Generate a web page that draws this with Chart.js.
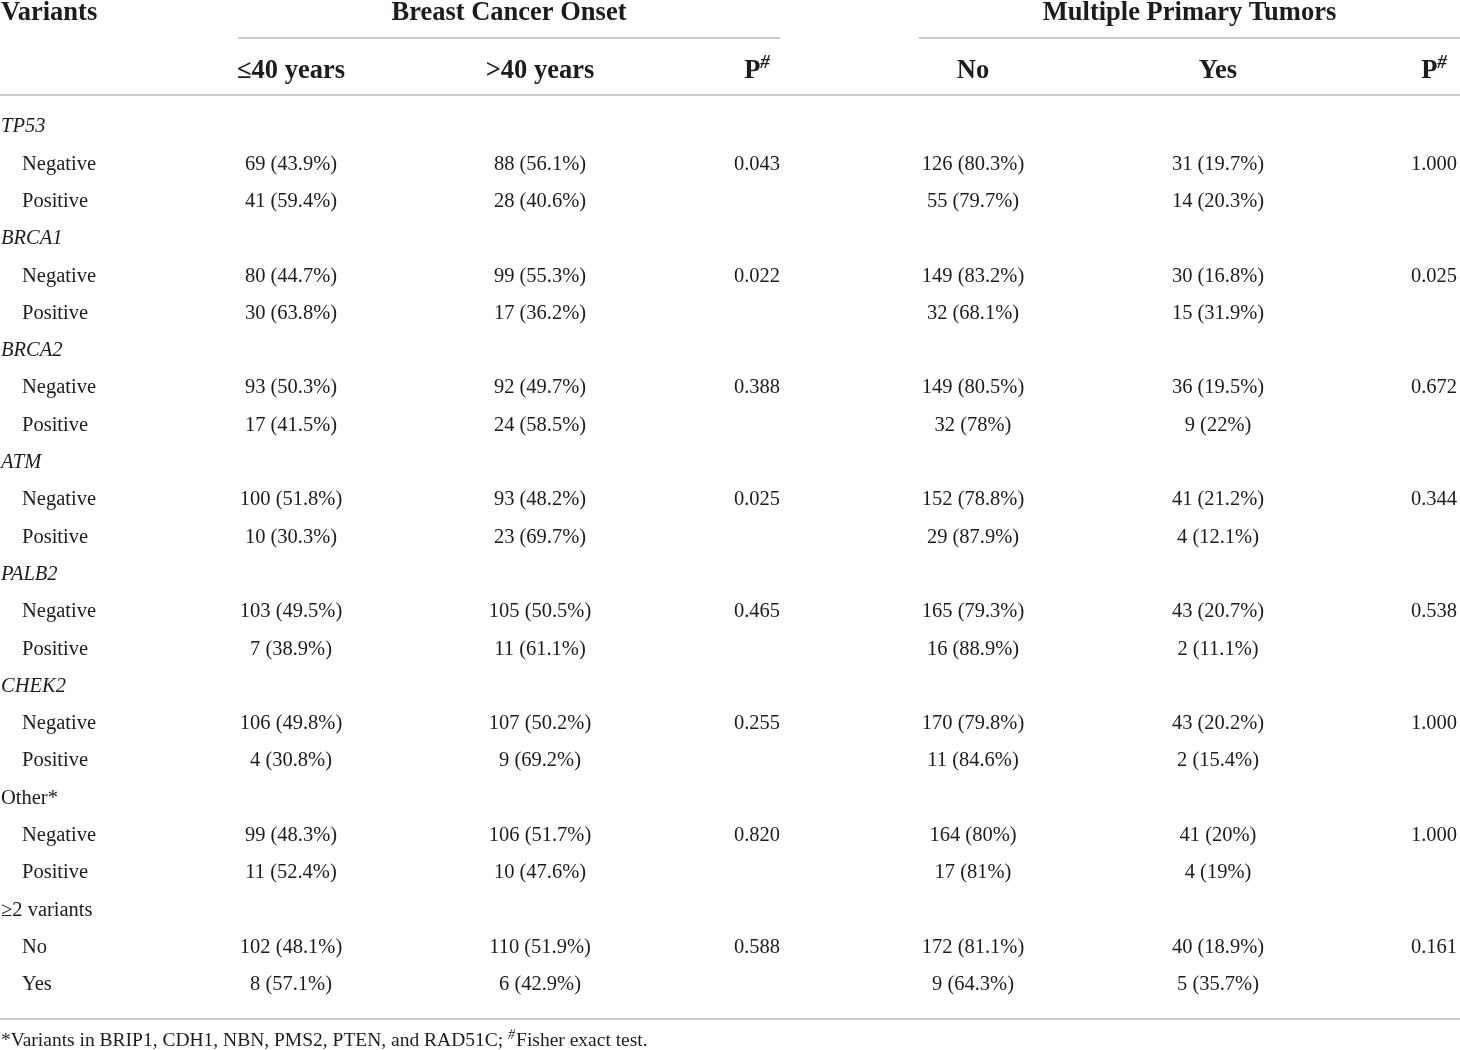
<!DOCTYPE html>
<html>
<head>
<meta charset="utf-8">
<script src="https://cdn.jsdelivr.net/npm/chart.js@4.4.1/dist/chart.umd.min.js"></script>
<style>
    html, body { margin: 0; padding: 0; background: #fff; }
    #wrap { width: 1460px; height: 1050px; position: relative; }
</style>
</head>
<body>
<div id="wrap"><canvas id="tableChart"></canvas></div>
<script>
// Table content
const variants = ['TP53', 'BRCA1', 'BRCA2', 'ATM', 'PALB2', 'CHEK2', 'Other*', '≥2 variants'];
const italicVariants = ['TP53', 'BRCA1', 'BRCA2', 'ATM', 'PALB2', 'CHEK2'];
const statusLabels = ['Negative', 'Positive', 'Negative', 'Positive', 'Negative', 'Positive', 'Negative', 'Positive',
    'Negative', 'Positive', 'Negative', 'Positive', 'Negative', 'Positive', 'No', 'Yes'];

const groupHeaders = ['Breast Cancer Onset', 'Multiple Primary Tumors'];
const columnHeaders = ['≤40 years', '>40 years', 'P', 'No', 'Yes', 'P'];

// Breast cancer onset
const le40N = [69, 41, 80, 30, 93, 17, 100, 10, 103, 7, 106, 4, 99, 11, 102, 8];
const le40Pct = [43.9, 59.4, 44.7, 63.8, 50.3, 41.5, 51.8, 30.3, 49.5, 38.9, 49.8, 30.8, 48.3, 52.4, 48.1, 57.1];
const gt40N = [88, 28, 99, 17, 92, 24, 93, 23, 105, 11, 107, 9, 106, 10, 110, 6];
const gt40Pct = [56.1, 40.6, 55.3, 36.2, 49.7, 58.5, 48.2, 69.7, 50.5, 61.1, 50.2, 69.2, 51.7, 47.6, 51.9, 42.9];
const onsetP = [0.043, 0.022, 0.388, 0.025, 0.465, 0.255, 0.820, 0.588];

// Multiple primary tumors
const mptNoN = [126, 55, 149, 32, 149, 32, 152, 29, 165, 16, 170, 11, 164, 17, 172, 9];
const mptNoPct = [80.3, 79.7, 83.2, 68.1, 80.5, 78, 78.8, 87.9, 79.3, 88.9, 79.8, 84.6, 80, 81, 81.1, 64.3];
const mptYesN = [31, 14, 30, 15, 36, 9, 41, 4, 43, 2, 43, 2, 41, 4, 40, 5];
const mptYesPct = [19.7, 20.3, 16.8, 31.9, 19.5, 22, 21.2, 12.1, 20.7, 11.1, 20.2, 15.4, 20, 19, 18.9, 35.7];
const mptP = [1.000, 0.025, 0.672, 0.344, 0.538, 1.000, 1.000, 0.161];

const footnote = '*Variants in BRIP1, CDH1, NBN, PMS2, PTEN, and RAD51C; ';
const footnoteEnd = 'Fisher exact test.';

/**
 * Layout (x in page units, y in row units)
 */
const colX = { variant: 1, status: 22, le40: 291, gt40: 540, p1: 757, no: 973, yes: 1218, p2: 1434 };
const groupSpan = [[238, 780], [919, 1460]];
const rowTop = 127;
const rowStep = 37.3;
const headerRow1 = -3.06;
const headerRow2 = -1.5;
const groupLineRow = -2.38;
const headerLineRow = -0.85;
const bottomLineRow = 23.92;
const footnoteRow = 24.5;

const TEXT = '#1f1b1c';
const RULE = '#cbcbcb';
const SERIF = '"Liberation Serif", "DejaVu Serif", serif';
const F_HEAD = `bold 26.5px ${SERIF}`;
const F_BODY = `20.5px ${SERIF}`;
const F_ITAL = `italic 20.5px ${SERIF}`;
const F_NOTE = `19.5px ${SERIF}`;

const cell = (n, pct) => `${n} (${pct}%)`;

/**
 * Build text cells from the data arrays
 */
function buildCells() {
    const cells = [];
    const pHeader = [{ t: 'P' }, { t: '#', sup: true, italic: true }];

    cells.push({ x: colX.variant, y: headerRow1, parts: [{ t: 'Variants' }], font: F_HEAD, align: 'left' });
    cells.push({ x: (groupSpan[0][0] + groupSpan[0][1]) / 2, y: headerRow1, parts: [{ t: groupHeaders[0] }], font: F_HEAD, align: 'center' });
    cells.push({ x: (groupSpan[1][0] + groupSpan[1][1]) / 2, y: headerRow1, parts: [{ t: groupHeaders[1] }], font: F_HEAD, align: 'center' });

    const headerX = [colX.le40, colX.gt40, colX.p1, colX.no, colX.yes, colX.p2];
    columnHeaders.forEach((h, i) => {
        const parts = h === 'P' ? pHeader : [{ t: h }];
        cells.push({ x: headerX[i], y: headerRow2, parts, font: F_HEAD, align: 'center' });
    });

    variants.forEach((v, g) => {
        const row = g * 3;
        cells.push({ x: colX.variant, y: row, parts: [{ t: v }], font: italicVariants.includes(v) ? F_ITAL : F_BODY, align: 'left' });
        cells.push({ x: colX.p1, y: row + 1, parts: [{ t: onsetP[g].toFixed(3) }], font: F_BODY, align: 'center' });
        cells.push({ x: colX.p2, y: row + 1, parts: [{ t: mptP[g].toFixed(3) }], font: F_BODY, align: 'center' });
        for (let k = 0; k < 2; k++) {
            const i = g * 2 + k;
            const y = row + 1 + k;
            cells.push({ x: colX.status, y, parts: [{ t: statusLabels[i] }], font: F_BODY, align: 'left' });
            cells.push({ x: colX.le40, y, parts: [{ t: cell(le40N[i], le40Pct[i]) }], font: F_BODY, align: 'center' });
            cells.push({ x: colX.gt40, y, parts: [{ t: cell(gt40N[i], gt40Pct[i]) }], font: F_BODY, align: 'center' });
            cells.push({ x: colX.no, y, parts: [{ t: cell(mptNoN[i], mptNoPct[i]) }], font: F_BODY, align: 'center' });
            cells.push({ x: colX.yes, y, parts: [{ t: cell(mptYesN[i], mptYesPct[i]) }], font: F_BODY, align: 'center' });
        }
    });

    cells.push({
        x: colX.variant, y: footnoteRow, font: F_NOTE, align: 'left',
        parts: [{ t: footnote }, { t: '#', sup: true, italic: true }, { t: footnoteEnd }]
    });
    return cells;
}

function fontSize(font) {
    return parseFloat(font.match(/([\d.]+)px/)[1]);
}

function partFont(base, p) {
    if (!p.sup) return base;
    const small = Math.round(fontSize(base) * 0.7);
    return base.replace(/([\d.]+)px/, `${small}px`).replace(/^(bold )?/, p.italic ? '$1italic ' : '$1');
}

// Rules of the table, placed through the scales
const tableRules = {
    id: 'tableRules',
    beforeDatasetsDraw(chart) {
        const { ctx, scales: { x, y } } = chart;
        const hline = (x0, x1, row) => {
            const py = Math.round(y.getPixelForValue(row));
            ctx.beginPath();
            ctx.moveTo(x.getPixelForValue(x0), py);
            ctx.lineTo(x.getPixelForValue(x1), py);
            ctx.stroke();
        };
        ctx.save();
        ctx.strokeStyle = RULE;
        ctx.lineWidth = 2;
        groupSpan.forEach(s => hline(s[0], s[1], groupLineRow));
        hline(x.min, x.max, headerLineRow);
        hline(x.min, x.max, bottomLineRow);
        ctx.restore();
    }
};

// Text of every cell, drawn at the point element position
const cellText = {
    id: 'cellText',
    afterDatasetsDraw(chart) {
        const ctx = chart.ctx;
        const ds = chart.data.datasets[0];
        const meta = chart.getDatasetMeta(0);
        ctx.save();
        ctx.fillStyle = TEXT;
        ctx.textBaseline = 'middle';
        ctx.textAlign = 'left';
        meta.data.forEach((pt, i) => {
            const d = ds.data[i];
            const widths = d.parts.map(p => { ctx.font = partFont(d.font, p); return ctx.measureText(p.t).width; });
            const total = widths.reduce((a, b) => a + b, 0);
            let px = d.align === 'center' ? pt.x - total / 2 : pt.x;
            const size = fontSize(d.font);
            d.parts.forEach((p, j) => {
                ctx.font = partFont(d.font, p);
                ctx.fillText(p.t, px, p.sup ? pt.y - size * 0.3 : pt.y);
                px += widths[j] + (p.sup ? 1 : 0);
            });
        });
        ctx.restore();
    }
};

const ctx = document.getElementById('tableChart').getContext('2d');
window.myChart_table = new Chart(ctx, {
    type: 'scatter',
    data: {
        datasets: [{
            label: 'cells',
            data: buildCells(),
            pointRadius: 0,
            pointHoverRadius: 0
        }]
    },
    options: {
        responsive: true,
        maintainAspectRatio: false,
        animation: false,
        layout: { padding: 0 },
        scales: {
            x: { type: 'linear', min: 0, max: 1460, display: false },
            y: { type: 'linear', reverse: true, min: -rowTop / rowStep, max: (1050 - rowTop) / rowStep, display: false }
        },
        plugins: {
            legend: { display: false },
            tooltip: { enabled: false }
        }
    },
    plugins: [tableRules, cellText]
});
</script>
</body>
</html>
